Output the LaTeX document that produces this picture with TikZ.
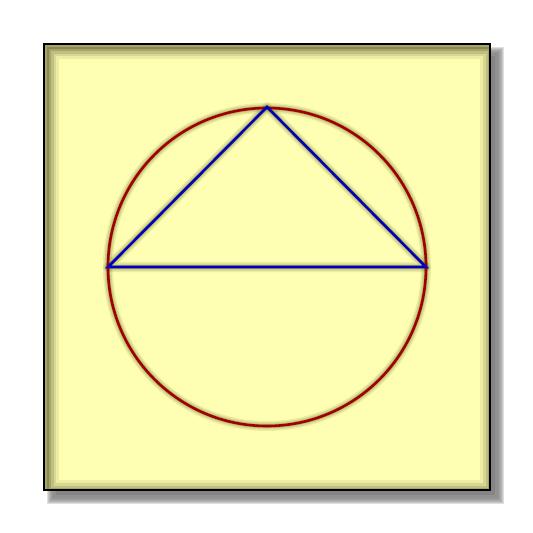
\documentclass[tikz,border=0pt]{standalone}
\usetikzlibrary{calc}
\definecolor{paper}{HTML}{FFFFB3}
\definecolor{circred}{HTML}{A00000}
\definecolor{triblue}{HTML}{0000B8}
\definecolor{glow}{HTML}{4A4A20}
\definecolor{lineshadow}{HTML}{707028}
\tikzset{
  circline/.style={draw=circred, line width=2.6pt},
  triline/.style={draw=triblue, line width=2.6pt, line join=miter},
  shad/.style={draw=lineshadow, line join=round, line cap=round},
}
\begin{document}
\begin{tikzpicture}[x=1pt,y=-1pt]
\useasboundingbox (0,0) rectangle (533,533);
% drop shadow
\foreach \i in {6,5,4,3,2,1,0}{
  \fill[black!50, fill opacity=0.25] ({53-\i},{53-\i}) rectangle ({498+\i},{498+\i});
}
\fill[black!48] (56,56) rectangle (495,495);
% paper
\fill[paper] (44,44) rectangle (490,490);
% inner glow (offset toward bottom right, so it falls on the top-left inside)
\begin{scope}
  \clip (44,44) rectangle (490,490);
  \foreach \w/\o in {22/0.10,16/0.13,11/0.17,6/0.22,2.5/0.3}{
    \draw[glow, line width=\w pt, opacity=\o] (48,48) rectangle (491,491);
  }
\end{scope}
\draw[black, line width=2.6pt] (44,44) rectangle (490,490);
% coordinates
\coordinate (O) at (267,267);
\coordinate (A) at (108,267);
\coordinate (B) at (426,267);
\coordinate (C) at (267,107);
% shadows of the figure
\begin{scope}[shift={(3.5,3.5)}]
  \foreach \w/\o in {10/0.12,7/0.18,4/0.3}{
    \draw[shad, line width=\w pt, opacity=\o] (O) circle[radius=159];
    \draw[shad, line width=\w pt, opacity=\o] (A) -- (B) -- (C) -- cycle;
  }
\end{scope}
% figure
\draw[circline] (O) circle[radius=159];
\draw[triline] (A) -- (B) -- (C) -- cycle;
\end{tikzpicture}
\end{document}
